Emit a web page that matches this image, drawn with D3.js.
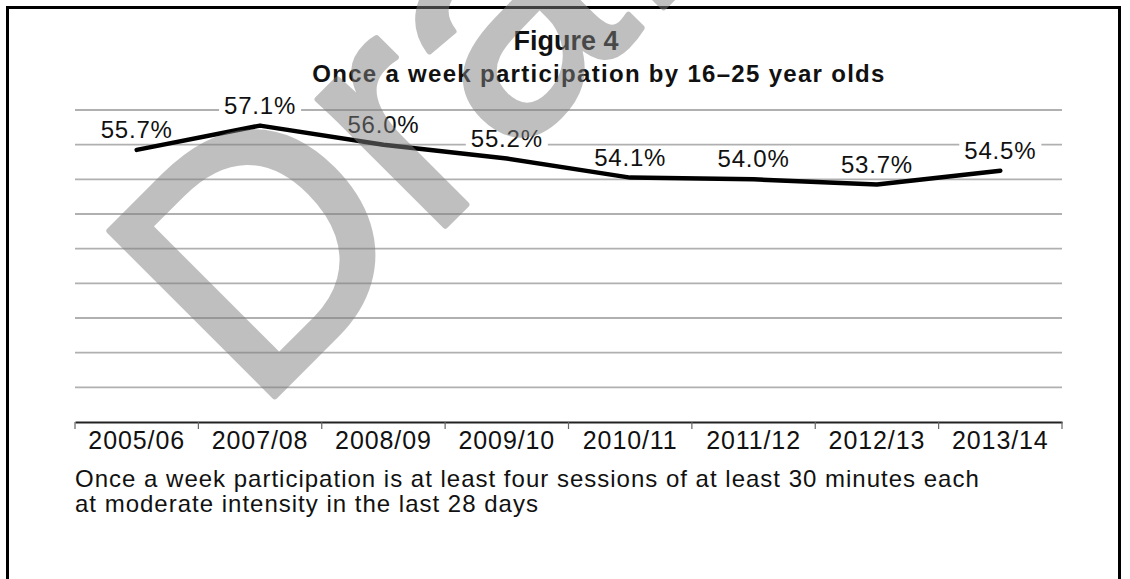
<!DOCTYPE html>
<html>
<head>
<meta charset="utf-8">
<script src="https://cdn.jsdelivr.net/npm/d3@7"></script>
<style>
  body { margin: 0; background: #fff; }
  svg { display: block; font-family: "Liberation Sans", Arial, sans-serif; }
</style>
</head>
<body>
<div id="chart"></div>
<script>
// values
const seasons = ["2005/06", "2007/08", "2008/09", "2009/10", "2010/11", "2011/12", "2012/13", "2013/14"];
const participation = [55.7, 57.1, 56.0, 55.2, 54.1, 54.0, 53.7, 54.5];
const gridValues = [40, 42, 44, 46, 48, 50, 52, 54, 56, 58];
const footnoteLines = [
  "Once a week participation is at least four sessions of at least 30 minutes each",
  "at moderate intensity in the last 28 days"
];

const W = 1130, H = 579;
const margin = {top: 110, right: 68, bottom: 157, left: 75};
const width = W - margin.left - margin.right,
      height = H - margin.top - margin.bottom;

const svg = d3.select("#chart").append("svg")
  .attr("width", W)
  .attr("height", H);

// outer frame
svg.append("rect")
  .attr("x", 7.5).attr("y", 7.5)
  .attr("width", 1112).attr("height", 600)
  .attr("fill", "none")
  .attr("stroke", "#000")
  .attr("stroke-width", 3);

const g = svg.append("g")
  .attr("transform", `translate(${margin.left},${margin.top})`);

const gridLayer = g.append("g"),
      backLayer = g.append("g"),
      lineLayer = g.append("g"),
      textLayer = g.append("g");

const x = d3.scaleBand()
  .domain(seasons)
  .range([0, width]);

const y = d3.scaleLinear()
  .domain([40, 58])
  .range([height, 0]);

const cx = (d, i) => x(seasons[i]) + x.bandwidth() / 2;

// gridlines
gridLayer.selectAll("line")
  .data(gridValues.slice(1))
  .join("line")
  .attr("x1", 0).attr("x2", width)
  .attr("y1", d => y(d)).attr("y2", d => y(d))
  .attr("stroke", "#b0b0b0")
  .attr("stroke-width", 1.8);

// x axis
const xAxis = g.append("g")
  .attr("transform", `translate(0,${height})`)
  .call(d3.axisBottom(x).tickSize(0).tickPadding(9));
xAxis.select(".domain").attr("stroke", "#222").attr("stroke-width", 2.2);
xAxis.selectAll("text")
  .style("font-size", "25px")
  .style("letter-spacing", "0.9px")
  .attr("fill", "#111")
  .attr("font-family", "Liberation Sans, Arial, sans-serif");

// boundary ticks between categories
g.append("g")
  .selectAll("line")
  .data(seasons.concat(["end"]))
  .join("line")
  .attr("x1", (d, i) => i * x.step())
  .attr("x2", (d, i) => i * x.step())
  .attr("y1", height).attr("y2", height + 7)
  .attr("stroke", "#666")
  .attr("stroke-width", 1.2);

// value labels
const labels = textLayer.selectAll("text")
  .data(participation)
  .join("text")
  .attr("x", cx)
  .attr("y", d => y(d) - 12)
  .attr("text-anchor", "middle")
  .style("font-size", "24px")
  .style("letter-spacing", "0.8px")
  .attr("fill", "#111")
  .text(d => d.toFixed(1) + "%");

// white backing so the gridlines break round the labels
labels.each(function() {
  const bb = this.getBBox();
  backLayer.append("rect")
    .attr("x", bb.x - 5).attr("y", bb.y + 3)
    .attr("width", bb.width + 10).attr("height", bb.height - 4)
    .attr("fill", "#fff");
});

// the line
const line = d3.line()
  .x(cx)
  .y(d => y(d));

lineLayer.append("path")
  .datum(participation)
  .attr("d", line)
  .attr("fill", "none")
  .attr("stroke", "#000")
  .attr("stroke-width", 4.5)
  .attr("stroke-linecap", "round")
  .attr("stroke-linejoin", "round");

// titles
svg.append("text")
  .attr("x", 566).attr("y", 50)
  .attr("text-anchor", "middle")
  .style("font-size", "27px")
  .style("font-weight", "bold")
  .attr("fill", "#111")
  .text("Figure 4");

svg.append("text")
  .attr("x", 599).attr("y", 82)
  .attr("text-anchor", "middle")
  .style("font-size", "24px")
  .style("font-weight", "bold")
  .style("letter-spacing", "1.3px")
  .attr("fill", "#111")
  .text("Once a week participation by 16\u201325 year olds");

// footnote
svg.append("g")
  .selectAll("text")
  .data(footnoteLines)
  .join("text")
  .attr("x", 75)
  .attr("y", (d, i) => 487 + i * 25)
  .style("font-size", "24px")
  .style("letter-spacing", "1px")
  .attr("fill", "#111")
  .text(d => d);

// watermark
svg.append("g")
  .attr("opacity", 0.5)
  .append("text")
  .attr("transform", "translate(255,416) rotate(-45)")
  .style("font-size", "340px")
  .attr("fill", "#808080")
  .attr("stroke", "#808080")
  .attr("stroke-width", 6)
  .attr("stroke-linejoin", "round")
  .text("Draft");
</script>
</body>
</html>
